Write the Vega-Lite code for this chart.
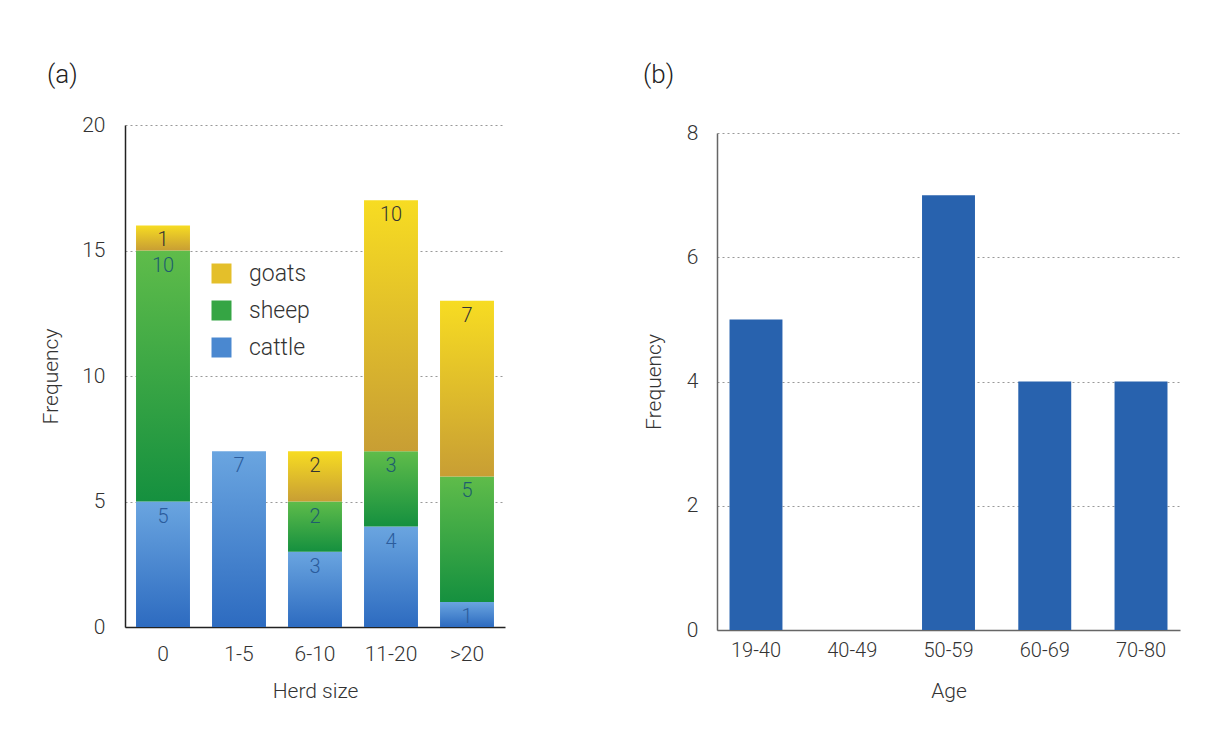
{
  "$schema": "https://vega.github.io/schema/vega-lite/v6.json",
  "background": "white",
  "padding": {"left": 40, "top": 62, "right": 5, "bottom": 5},
  "bounds": "flush",
  "spacing": 212,
  "config": {
    "font": "Roboto",
    "view": {"stroke": null},
    "axis": {"ticks": false, "labelFont": "Roboto", "titleFont": "Roboto", "labelColor": "#333", "titleColor": "#333", "titleFontWeight": 300, "labelFontWeight": 300, "gridDash": [2, 3], "gridColor": "#999", "gridWidth": 1},
    "title": {"font": "Roboto", "fontWeight": 300, "color": "#222"}
  },
  "hconcat": [
    {
      "width": 380,
      "height": 502,
      "title": {"text": "(a)", "anchor": "start", "frame": "group", "dx": -78, "offset": 26, "fontSize": 26},
      "data": {"values": [
        {"herd": "0", "animal": "cattle", "order": 1, "count": 5},
        {"herd": "0", "animal": "sheep", "order": 2, "count": 10},
        {"herd": "0", "animal": "goats", "order": 3, "count": 1},
        {"herd": "1-5", "animal": "cattle", "order": 1, "count": 7},
        {"herd": "6-10", "animal": "cattle", "order": 1, "count": 3},
        {"herd": "6-10", "animal": "sheep", "order": 2, "count": 2},
        {"herd": "6-10", "animal": "goats", "order": 3, "count": 2},
        {"herd": "11-20", "animal": "cattle", "order": 1, "count": 4},
        {"herd": "11-20", "animal": "sheep", "order": 2, "count": 3},
        {"herd": "11-20", "animal": "goats", "order": 3, "count": 10},
        {"herd": ">20", "animal": "cattle", "order": 1, "count": 1},
        {"herd": ">20", "animal": "sheep", "order": 2, "count": 5},
        {"herd": ">20", "animal": "goats", "order": 3, "count": 7}
      ]},
      "transform": [
        {"stack": "count", "groupby": ["herd"], "sort": [{"field": "order"}], "as": ["lo", "hi"]}
      ],
      "encoding": {
        "x": {
          "field": "herd", "type": "nominal", "sort": ["0", "1-5", "6-10", "11-20", ">20"],
          "scale": {"paddingInner": 0.29, "paddingOuter": 0.145},
          "title": "Herd size",
          "axis": {"labelAngle": 0, "labelFontSize": 21, "labelPadding": 16, "titleFontSize": 21, "titlePadding": 16, "domainColor": "#222", "domainWidth": 1.5}
        },
        "y": {
          "field": "lo", "type": "quantitative",
          "scale": {"domain": [0, 20]},
          "title": "Frequency",
          "axis": {"values": [0, 5, 10, 15, 20], "grid": true, "labelFontSize": 21, "labelPadding": 20, "titleFontSize": 21, "titlePadding": 20, "domainColor": "#222", "domainWidth": 1.5}
        }
      },
      "layer": [
        {
          "transform": [{"filter": "datum.animal === 'cattle'"}],
          "mark": {"type": "bar", "color": {"gradient": "linear", "x1": 0, "y1": 0, "x2": 0, "y2": 1, "stops": [{"offset": 0, "color": "#6aa5e0"}, {"offset": 1, "color": "#2d6bc0"}]}},
          "encoding": {"y2": {"field": "hi"}}
        },
        {
          "transform": [{"filter": "datum.animal === 'sheep'"}],
          "mark": {"type": "bar", "color": {"gradient": "linear", "x1": 0, "y1": 0, "x2": 0, "y2": 1, "stops": [{"offset": 0, "color": "#5fbc4a"}, {"offset": 1, "color": "#15903f"}]}},
          "encoding": {"y2": {"field": "hi"}}
        },
        {
          "transform": [{"filter": "datum.animal === 'goats'"}],
          "mark": {"type": "bar", "color": {"gradient": "linear", "x1": 0, "y1": 0, "x2": 0, "y2": 1, "stops": [{"offset": 0, "color": "#f7dc22"}, {"offset": 1, "color": "#c89e34"}]}},
          "encoding": {"y2": {"field": "hi"}}
        },
        {
          "mark": {"type": "square", "opacity": 0, "filled": true},
          "encoding": {
            "color": {
              "field": "animal", "type": "nominal",
              "scale": {"domain": ["goats", "sheep", "cattle"], "range": ["#e4bf2a", "#35a544", "#4a88d0"]},
              "legend": {
                "orient": "none", "legendX": 85, "legendY": 137, "title": null,
                "symbolType": "square", "symbolSize": 400, "symbolStrokeWidth": 0, "symbolOpacity": 1,
                "labelFontSize": 23, "labelFont": "Roboto", "labelFontWeight": 300, "labelColor": "#333", "labelOffset": 16, "rowPadding": 13
              }
            }
          }
        },
        {
          "mark": {"type": "text", "baseline": "middle", "dy": 15, "fontSize": 20, "font": "Roboto", "fontWeight": 300},
          "encoding": {
            "y": {"field": "hi", "type": "quantitative"},
            "text": {"field": "count", "type": "quantitative"},
            "color": {
              "field": "animal", "type": "nominal",
              "scale": {"domain": ["goats", "sheep", "cattle"], "range": ["#333333", "#1e5e6e", "#2b5c9c"]},
              "legend": null
            }
          }
        }
      ],
      "resolve": {"scale": {"color": "independent"}, "legend": {"color": "independent"}}
    },
    {
      "width": 463,
      "height": 505,
      "title": {"text": "(b)", "anchor": "start", "frame": "group", "dx": -74, "offset": 34, "fontSize": 26},
      "data": {"values": [
        {"age": "19-40", "freq": 5},
        {"age": "40-49", "freq": 0},
        {"age": "50-59", "freq": 7},
        {"age": "60-69", "freq": 4},
        {"age": "70-80", "freq": 4}
      ]},
      "mark": {"type": "bar", "color": "#2862ae"},
      "encoding": {
        "x": {
          "field": "age", "type": "nominal", "sort": null,
          "scale": {"paddingInner": 0.45, "paddingOuter": 0.13},
          "title": "Age",
          "axis": {"labelAngle": 0, "labelFontSize": 20, "labelPadding": 10, "titleFontSize": 21, "titlePadding": 20, "domainColor": "#666", "domainWidth": 1.5}
        },
        "y": {
          "field": "freq", "type": "quantitative",
          "scale": {"domain": [0, 8], "range": [505, 8]},
          "title": "Frequency",
          "axis": {"values": [0, 2, 4, 6, 8], "grid": true, "labelFontSize": 21, "labelPadding": 19, "titleFontSize": 21, "titlePadding": 22, "domainColor": "#666", "domainWidth": 1.5}
        }
      }
    }
  ]
}
